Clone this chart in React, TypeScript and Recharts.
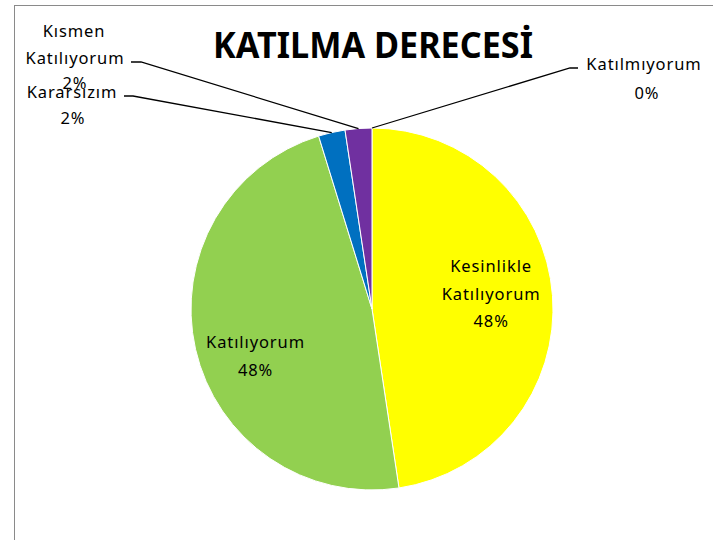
import * as React from "react";
import { PieChart, Pie, Cell } from "recharts";

const CATEGORIES = ["Kesinlikle Katılıyorum", "Katılıyorum", "Kararsızım", "Kısmen Katılıyorum", "Katılmıyorum"];
const COUNTS = [20, 20, 1, 1, 0];
const COLORS = ["#ffff00", "#92d050", "#0070c0", "#7030a0", "#c00000"];

const data = CATEGORIES.map((name, i) => ({ name, value: COUNTS[i] }));

const FONT = "'Noto Sans', 'Open Sans', sans-serif";
const RAD = Math.PI / 180;
const LABEL_STYLE = { fontFamily: FONT, fontSize: 16.5, letterSpacing: 0.9 };

// where the outside labels sit (text lines, line start, elbow)
const OUTSIDE: Record<number, { lines: [number, number][]; from: [number, number]; elbow: [number, number] }> = {
  2: { lines: [[72, 91], [73, 117]], from: [124, 96], elbow: [133, 96] },
  3: { lines: [[74, 30], [75, 57], [75, 82]], from: [131, 62], elbow: [141, 62] },
  4: { lines: [[644, 63], [647, 92]], from: [578, 68], elbow: [570, 68] },
};

function renderLabel(props: any) {
  const { cx, cy, midAngle, outerRadius, percent, index, name } = props;
  const pct = `${Math.round((percent || 0) * 100)}%`;
  const words = name.split(" ");
  const out = OUTSIDE[index];
  const lines = [...words, pct];
  if (!out) {
    const r = outerRadius * 0.66;
    const x = cx + r * Math.cos(-midAngle * RAD);
    const y = cy + r * Math.sin(-midAngle * RAD) + (index === 1 ? 20 : -7);
    const lh = 27.5;
    const y0 = y - ((lines.length - 1) * lh) / 2;
    return (
      <g key={`l-${index}`}>
        {lines.map((t, i) => (
          <text key={i} x={x} y={y0 + i * lh} textAnchor="middle" dominantBaseline="central" {...LABEL_STYLE} fill="#000">
            {t}
          </text>
        ))}
      </g>
    );
  }
  const ex = cx + outerRadius * Math.cos(-midAngle * RAD);
  const ey = cy + outerRadius * Math.sin(-midAngle * RAD);
  return (
    <g key={`l-${index}`}>
      <polyline
        points={`${out.from[0]},${out.from[1]} ${out.elbow[0]},${out.elbow[1]} ${ex},${ey}`}
        fill="none"
        stroke="#000"
        strokeWidth={1.3}
      />
      {lines.map((t, i) => (
        <text key={i} x={out.lines[i][0]} y={out.lines[i][1]} textAnchor="middle" dominantBaseline="central" {...LABEL_STYLE} fill="#000">
          {t}
        </text>
      ))}
    </g>
  );
}

export default function App() {
  return (
    <div style={{ position: "absolute", left: 0, top: 0, width: 713, height: 540, background: "#fff", overflow: "hidden" }}>
      <div style={{ position: "absolute", left: 14, top: 5, width: 900, height: 900, border: "1px solid #8a8a8a", boxSizing: "border-box" }} />
      <div style={{ position: "absolute", left: 0, top: 0 }}>
        <PieChart width={713} height={540} margin={{ top: 0, right: 0, bottom: 0, left: 0 }}>
          <text x={373} y={58} textAnchor="middle" fontFamily={FONT} fontWeight="bold" fontSize={36} textLength={320} lengthAdjust="spacingAndGlyphs" fill="#000">
            KATILMA DERECESİ
          </text>
          <Pie
            data={data}
            dataKey="value"
            nameKey="name"
            cx={372}
            cy={309}
            outerRadius={181}
            startAngle={90}
            endAngle={-270}
            stroke="#fff"
            strokeWidth={1}
            label={renderLabel}
            labelLine={false}
            isAnimationActive={false}
          >
            {data.map((_, i) => (
              <Cell key={i} fill={COLORS[i]} />
            ))}
          </Pie>
        </PieChart>
      </div>
    </div>
  );
}
